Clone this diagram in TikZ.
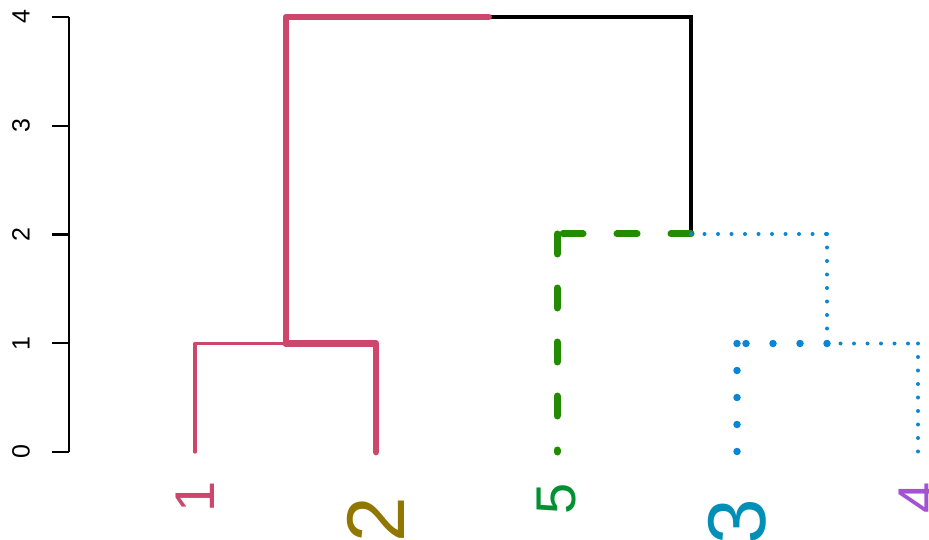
\documentclass[tikz,border=0pt]{standalone}
\usepackage{fontspec}
\setmainfont{Liberation Sans}
\definecolor{cpink}{HTML}{CC476B}
\definecolor{colive}{HTML}{917600}
\definecolor{cgreenlab}{HTML}{009232}
\definecolor{cteal}{HTML}{008FB7}
\definecolor{cpurple}{HTML}{A352D1}
\definecolor{cgreen}{HTML}{228B00}
\definecolor{cblue}{HTML}{0A86D4}
\tikzset{
  axisline/.style={line width=2.4pt, black},
  ticklab/.style={rotate=90, inner sep=0pt, font=\fontsize{25}{28}\selectfont},
  leaflab/.style={rotate=90, anchor=east, inner sep=0pt},
  pinkthin/.style={cpink, line width=3.4pt, line cap=round, line join=round},
  pinkthick/.style={cpink, line width=6.8pt, line cap=round, line join=round},
  blackedge/.style={black, line width=3.2pt, line cap=butt, line join=miter},
  greendash/.style={cgreen, line width=7pt, line cap=round, dash pattern=on 20pt off 34pt},
  bluesmall/.style={cblue, line width=4pt, line cap=round, dash pattern=on 0pt off 13.5pt},
  bluebig/.style={cblue, line width=7.5pt, line cap=round, dash pattern=on 0pt off 27pt},
}
\begin{document}
\begin{tikzpicture}[x=1pt, y=-1pt]
\useasboundingbox (0,0) rectangle (929,540);
% axis
\coordinate (a0) at (69,452);
\coordinate (a4) at (69,17);
\draw[axisline] (a0) -- (a4);
\foreach \v in {0,1,2,3,4} {
  \coordinate (t\v) at (69,{452-108.75*\v});
  \draw[axisline] (t\v) -- ++(-17,0);
  \node[ticklab] (tl\v) at (21,{452-108.75*\v}) {\v};
}
% leaves and merges
\coordinate (l1) at (195,452);
\coordinate (l2) at (376,452);
\coordinate (l5) at (557,452);
\coordinate (l3) at (737,452);
\coordinate (l4) at (918,452);
\coordinate (n12) at (286,343.5);
\coordinate (n34) at (827,343.5);
\coordinate (n534) at (691,234);
\coordinate (root) at (488.5,17);
% black part
\draw[blackedge] (root) -| (n534);
% pink
\draw[pinkthin] (l1) |- (n12);
\draw[pinkthick] (n12) -| (l2);
\draw[pinkthick] (n12) |- (root);
% green dashed
\draw[greendash] (n534) -- (n534 -| l5);
\draw[greendash] (n534 -| l5) -- (l5);
% blue dotted
\draw[bluesmall] (n534) -- (n534 -| n34);
\draw[bluesmall] (n534 -| n34) -- (n34);
\draw[bluebig] (n34) -- (n34 -| l3);
\draw[bluebig] (n34 -| l3) -- (l3);
\draw[bluesmall] (n34) -- (n34 -| l4);
\draw[bluesmall] (n34 -| l4) -- (l4);
% labels
\node[leaflab, cpink, font=\fontsize{56}{60}\selectfont] (lab1) at (195,481) {1};
\node[leaflab, colive, font=\fontsize{82}{86}\selectfont] (lab2) at (376,497) {2};
\node[leaflab, cgreenlab, font=\fontsize{56}{60}\selectfont] (lab5) at (557,483) {5};
\node[leaflab, cteal, font=\fontsize{82}{86}\selectfont] (lab3) at (737,499) {3};
\node[leaflab, cpurple, font=\fontsize{56}{60}\selectfont] (lab4) at (918,482) {4};
\end{tikzpicture}
\end{document}
